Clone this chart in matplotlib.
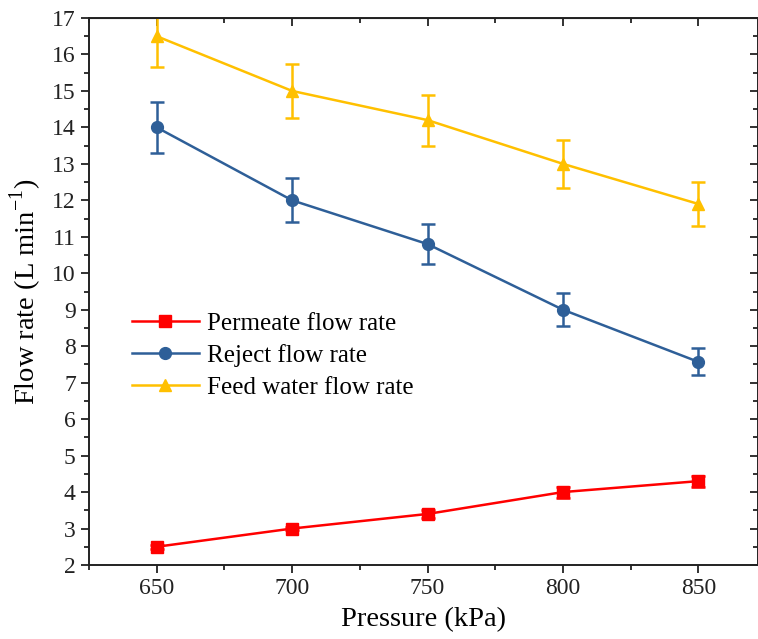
import matplotlib
matplotlib.use("Agg")
import matplotlib.pyplot as plt
from matplotlib.ticker import MultipleLocator
from matplotlib.lines import Line2D

plt.rcParams['font.family'] = ['Liberation Serif', 'DejaVu Serif']
plt.rcParams['mathtext.fontset'] = 'custom'
plt.rcParams['mathtext.rm'] = 'Liberation Serif'

pressure = [650, 700, 750, 800, 850]
permeate = [2.5, 3.0, 3.4, 4.0, 4.3]
permeate_err = [0.05, 0.05, 0.1, 0.15, 0.15]
reject = [14.0, 12.0, 10.8, 9.0, 7.57]
reject_err = [0.7, 0.6, 0.55, 0.45, 0.37]
feed = [16.5, 15.0, 14.2, 13.0, 11.9]
feed_err = [0.85, 0.75, 0.7, 0.65, 0.6]

labels = ["Permeate flow rate", "Reject flow rate", "Feed water flow rate"]
colors = ["#ff0000", "#2e5f98", "#ffc000"]
markers = ['s', 'o', '^']

fig = plt.figure(figsize=(7.58, 6.39), dpi=100)
ax = fig.add_axes([89/758, 74/639, 669/758, 547/639])

series = [(permeate, permeate_err), (reject, reject_err), (feed, feed_err)]
handles = []
for (vals, errs), lab, c, mk in zip(series, labels, colors, markers):
    ms = 8 if mk == 's' else 8.5
    ax.errorbar(pressure, vals, yerr=errs, color=c, marker=mk, markersize=ms,
                linewidth=1.8, elinewidth=1.8, capsize=5, capthick=1.8)
    handles.append(Line2D([], [], color=c, marker=mk, markersize=ms, linewidth=1.8, label=lab))

ax.set_xlim(625, 872)
ax.set_ylim(2, 17)
ax.xaxis.set_major_locator(MultipleLocator(50))
ax.xaxis.set_minor_locator(MultipleLocator(25))
ax.yaxis.set_major_locator(MultipleLocator(1))
ax.yaxis.set_minor_locator(MultipleLocator(0.5))
ax.tick_params(which='both', direction='out', width=1.3, labelsize=17, colors='#222222')
ax.tick_params(which='major', length=6)
ax.tick_params(which='minor', length=3.5)
for s in ax.spines.values():
    s.set_linewidth(1.4)
    s.set_color('#222222')

sx = ax.secondary_xaxis('top')
sx.xaxis.set_major_locator(MultipleLocator(50))
sx.xaxis.set_minor_locator(MultipleLocator(25))
sx.tick_params(which='both', direction='in', labeltop=False, width=1.3, colors='#222222')
sx.tick_params(which='major', length=6)
sx.tick_params(which='minor', length=3.5)
sy = ax.secondary_yaxis('right')
sy.yaxis.set_major_locator(MultipleLocator(1))
sy.yaxis.set_minor_locator(MultipleLocator(0.5))
sy.tick_params(which='both', direction='in', labelright=False, width=1.3, colors='#222222')
sy.tick_params(which='major', length=6)
sy.tick_params(which='minor', length=3.5)

ax.set_xlabel("Pressure (kPa)", fontsize=20.5, labelpad=6)
ax.set_ylabel(r"Flow rate (L min$^{\mathregular{-1}}$)", fontsize=20.5, labelpad=6)

ax.legend(handles=handles, loc='upper left', bbox_to_anchor=(0.045, 0.485), frameon=False, fontsize=18,
          handlelength=2.7, handletextpad=0.3, labelspacing=0.38, borderpad=0)

fig.savefig("out.png", dpi=100)
